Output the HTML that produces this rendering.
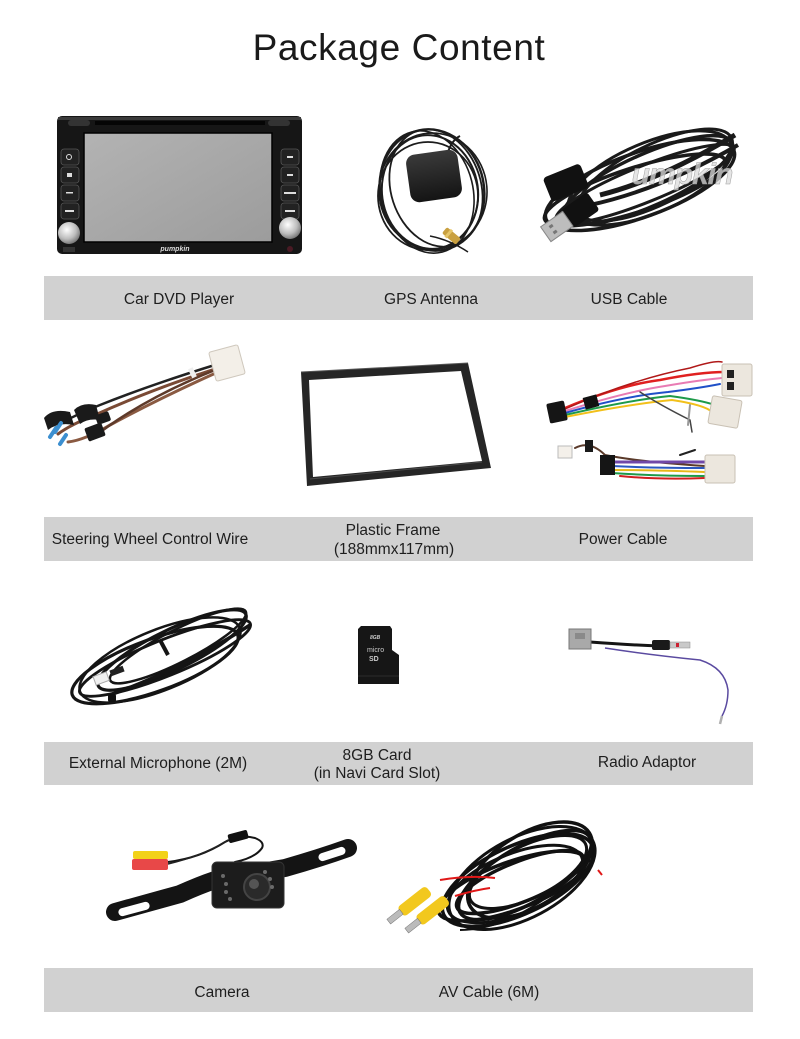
<!DOCTYPE html>
<html>
<head>
<meta charset="utf-8">
<style>
html,body{margin:0;padding:0;background:#fff;}
body{width:800px;height:1039px;overflow:hidden;}
svg{display:block;}
text{font-family:"Liberation Sans",Arial,sans-serif;}
</style>
</head>
<body>
<svg width="800" height="1039" viewBox="0 0 800 1039" xmlns="http://www.w3.org/2000/svg">
<defs>
  <linearGradient id="scr" x1="0" y1="0" x2="1" y2="1">
    <stop offset="0" stop-color="#b3b3b3"/>
    <stop offset="1" stop-color="#9c9c9c"/>
  </linearGradient>
  <radialGradient id="knob" cx="0.4" cy="0.35" r="0.7">
    <stop offset="0" stop-color="#ffffff"/>
    <stop offset="0.6" stop-color="#bdbdbd"/>
    <stop offset="1" stop-color="#6e6e6e"/>
  </radialGradient>
  <linearGradient id="puck" x1="0" y1="0" x2="0" y2="1">
    <stop offset="0" stop-color="#3a3a3a"/>
    <stop offset="1" stop-color="#141414"/>
  </linearGradient>
</defs>

<rect width="800" height="1039" fill="#fff"/>

<!-- Title -->
<text x="399" y="60" font-size="37" text-anchor="middle" fill="#1a1a1a" letter-spacing="0.6">Package Content</text>

<!-- ===== Row 1 images ===== -->
<!-- Car DVD player -->
<g>
  <rect x="57" y="116" width="245" height="138" rx="5" fill="#161616"/>
  <rect x="58" y="117" width="243" height="3" fill="#3a3a3a"/>
  <rect x="95" y="121" width="170" height="4" fill="#050505"/>
  <rect x="68" y="120" width="22" height="6" rx="3" fill="#333"/>
  <rect x="268" y="120" width="22" height="6" rx="3" fill="#333"/>
  <rect x="84" y="133" width="188" height="109" fill="url(#scr)"/>
  <rect x="84" y="133" width="188" height="109" fill="none" stroke="#000" stroke-width="1.5"/>
  <g fill="#222" stroke="#555" stroke-width="0.8">
    <rect x="61" y="149" width="18" height="16" rx="3"/>
    <rect x="61" y="167" width="18" height="16" rx="3"/>
    <rect x="61" y="185" width="18" height="16" rx="3"/>
    <rect x="61" y="203" width="18" height="16" rx="3"/>
    <rect x="281" y="149" width="18" height="16" rx="3"/>
    <rect x="281" y="167" width="18" height="16" rx="3"/>
    <rect x="281" y="185" width="18" height="16" rx="3"/>
    <rect x="281" y="203" width="18" height="16" rx="3"/>
  </g>
  <g fill="#ddd">
    <circle cx="69" cy="157" r="2.5" fill="none" stroke="#ddd" stroke-width="1"/>
    <rect x="67" y="173" width="5" height="4"/>
    <rect x="66" y="192" width="7" height="1.5"/>
    <rect x="65" y="210" width="9" height="2"/>
    <rect x="287" y="156" width="6" height="2"/>
    <rect x="287" y="174" width="6" height="2"/>
    <rect x="284" y="192" width="12" height="2"/>
    <rect x="285" y="210" width="10" height="2"/>
  </g>
  <circle cx="69" cy="233" r="11" fill="url(#knob)"/>
  <circle cx="290" cy="228" r="11" fill="url(#knob)"/>
  <rect x="63" y="247" width="12" height="5" fill="#333"/>
  <circle cx="290" cy="249" r="3" fill="#4a1a24"/>
  <text x="175" y="251" font-size="7" font-style="italic" font-weight="bold" fill="#ddd" text-anchor="middle">pumpkin</text>
</g>

<!-- GPS antenna -->
<g fill="none" stroke="#1c1c1c">
  <ellipse cx="432" cy="190" rx="52" ry="61" stroke-width="2.4" transform="rotate(-12 432 190)"/>
  <ellipse cx="430" cy="192" rx="48" ry="57" stroke-width="2" transform="rotate(-8 430 192)"/>
  <ellipse cx="436" cy="188" rx="45" ry="60" stroke-width="1.8" transform="rotate(-18 436 188)"/>
  <ellipse cx="428" cy="196" rx="50" ry="54" stroke-width="1.8"/>
  <ellipse cx="433" cy="191" rx="54" ry="58" stroke-width="1.6" transform="rotate(-5 433 191)"/>
  <ellipse cx="427" cy="192" rx="46" ry="62" stroke-width="1.6" transform="rotate(-14 427 192)"/>
  <path d="M448 152 Q452 140 460 136" stroke-width="2"/>
  <path d="M430 236 Q450 240 468 252" stroke-width="1.5"/>
</g>
<g transform="rotate(-8 434 176)">
  <rect x="408" y="152" width="52" height="48" rx="9" fill="url(#puck)"/>
</g>
<g transform="rotate(40 450 236)">
  <rect x="442" y="231" width="18" height="8" rx="2" fill="#c9a040"/>
  <rect x="446" y="230" width="3" height="10" fill="#e6c66a"/>
</g>

<!-- USB cable -->
<g fill="none" stroke="#1a1a1a" stroke-width="3.5">
  <ellipse cx="640" cy="185" rx="100" ry="32" transform="rotate(-20 640 185)"/>
  <ellipse cx="648" cy="180" rx="92" ry="26" transform="rotate(-24 648 180)"/>
  <ellipse cx="635" cy="190" rx="95" ry="22" transform="rotate(-18 635 190)"/>
  <ellipse cx="655" cy="175" rx="85" ry="30" transform="rotate(-26 655 175)" stroke-width="3"/>
  <ellipse cx="645" cy="184" rx="96" ry="18" transform="rotate(-22 645 184)" stroke-width="3"/>
  <ellipse cx="650" cy="178" rx="88" ry="35" transform="rotate(-23 650 178)" stroke-width="3"/>
  <path d="M600 195 Q660 180 735 135" stroke-width="5"/>
  <path d="M590 205 Q660 190 738 145" stroke-width="4"/>
</g>
<g transform="rotate(-22 565 183)">
  <rect x="546" y="170" width="40" height="26" rx="4" fill="#111"/>
</g>
<g transform="rotate(-35 575 215)">
  <rect x="566" y="203" width="32" height="22" rx="3" fill="#111"/>
  <rect x="540" y="205" width="27" height="18" fill="#bdbdbd" stroke="#888" stroke-width="1"/>
  <rect x="547" y="209" width="4" height="3" fill="#777"/>
  <rect x="547" y="216" width="4" height="3" fill="#777"/>
</g>
<text x="682" y="184" font-size="30" font-style="italic" font-weight="bold" text-anchor="middle" fill="#dcdcdc" fill-opacity="0.75" stroke="#a0a0a0" stroke-width="0.5" letter-spacing="-1">umpkin</text>

<!-- Row 1 bar -->
<rect x="44" y="276" width="709" height="44" fill="#d1d1d1"/>
<g font-size="15.5" fill="#1e1e1e" text-anchor="middle">
  <text x="179" y="304">Car DVD Player</text>
  <text x="431" y="304">GPS Antenna</text>
  <text x="629" y="304">USB Cable</text>
</g>

<!-- ===== Row 2 images ===== -->
<!-- Steering wheel control wire -->
<g>
  <g fill="none" stroke-linecap="round">
    <path d="M218 368 Q150 390 95 415 Q70 425 58 434" stroke="#7a4a35" stroke-width="3"/>
    <path d="M218 364 Q150 385 100 405 Q75 415 58 425" stroke="#222" stroke-width="2.5"/>
    <path d="M218 372 Q160 398 110 425 Q85 440 68 442" stroke="#8a5a42" stroke-width="3"/>
    <path d="M215 370 Q140 400 90 440" stroke="#5e3a2a" stroke-width="2.5"/>
  </g>
  <rect x="190" y="368" width="5" height="10" fill="#eee" transform="rotate(-25 192 373)"/>
  <rect x="212" y="348" width="30" height="30" rx="2" fill="#f3efe8" stroke="#cfc8bd" stroke-width="1" transform="rotate(-15 227 363)"/>
  <g fill="#1a1a1a">
    <path d="M44 418 Q52 408 70 412 L74 425 Q58 422 48 430 Z"/>
    <path d="M74 410 Q82 402 96 405 L100 420 Q88 418 80 424 Z"/>
    <rect x="86" y="425" width="18" height="14" rx="2" transform="rotate(-20 95 432)"/>
    <rect x="96" y="413" width="14" height="10" rx="2" transform="rotate(-20 103 418)"/>
  </g>
  <g fill="none" stroke="#3c8fd0" stroke-width="4" stroke-linecap="round">
    <path d="M50 437 L56 428"/>
    <path d="M55 432 L61 423"/>
    <path d="M60 444 L66 435"/>
  </g>
</g>

<!-- Plastic frame -->
<path fill-rule="evenodd" fill="#262626"
  d="M301 372 L468 363 L491 468 L307 486 Z M309 380 L461 371 L482 461 L313 477 Z"/>
<path d="M301 372 L468 363" stroke="#555" stroke-width="1" fill="none"/>
<path d="M310 479 L482 462" stroke="#4a4a4a" stroke-width="1" fill="none"/>

<!-- Power cable -->
<g fill="none" stroke-linecap="round">
  <path d="M565 408 Q620 385 660 380 Q700 372 725 372" stroke="#e02020" stroke-width="2.5"/>
  <path d="M565 411 Q625 392 665 386 Q700 380 722 378" stroke="#e87cb4" stroke-width="2"/>
  <path d="M565 413 Q625 396 668 392 Q700 388 720 384" stroke="#2050c8" stroke-width="2"/>
  <path d="M565 415 Q630 400 670 396 Q700 400 715 405" stroke="#1e9a4a" stroke-width="2"/>
  <path d="M565 417 Q630 404 672 400 Q705 405 712 412" stroke="#f2c01a" stroke-width="2"/>
  <path d="M565 409 Q630 380 690 368 Q715 360 722 362" stroke="#b01818" stroke-width="1.5"/>
  <path d="M640 392 Q660 405 690 420 L692 432" stroke="#444" stroke-width="1.5"/>
  <path d="M690 405 L688 425" stroke="#999" stroke-width="2"/>
</g>
<rect x="548" y="402" width="18" height="20" rx="2" fill="#151515" transform="rotate(-12 557 412)"/>
<rect x="584" y="396" width="14" height="12" fill="#111" transform="rotate(-15 591 402)"/>
<rect x="722" y="364" width="30" height="32" rx="2" fill="#ece7de" stroke="#c9c1b4" stroke-width="1"/>
<rect x="727" y="370" width="7" height="8" fill="#222"/>
<rect x="727" y="382" width="7" height="8" fill="#222"/>
<rect x="710" y="398" width="30" height="28" rx="2" fill="#ece7de" stroke="#c9c1b4" stroke-width="1" transform="rotate(10 725 412)"/>
<g fill="none" stroke-linecap="round">
  <path d="M575 448 Q590 440 605 455 Q640 462 705 466" stroke="#5a3a2a" stroke-width="2"/>
  <path d="M612 462 Q650 462 705 462" stroke="#7048a8" stroke-width="3"/>
  <path d="M612 466 Q650 468 705 468" stroke="#2a58c0" stroke-width="2"/>
  <path d="M612 470 Q650 470 705 472" stroke="#e8b818" stroke-width="2"/>
  <path d="M612 473 Q655 476 705 476" stroke="#1e9a4a" stroke-width="2"/>
  <path d="M620 476 Q660 480 705 478" stroke="#d02020" stroke-width="2"/>
  <path d="M680 455 L695 450" stroke="#222" stroke-width="2"/>
</g>
<rect x="558" y="446" width="14" height="12" fill="#f4f0ea" stroke="#bbb" stroke-width="1"/>
<rect x="585" y="440" width="8" height="12" fill="#1a1a1a"/>
<rect x="600" y="455" width="15" height="20" fill="#151515"/>
<rect x="705" y="455" width="30" height="28" rx="2" fill="#ece7de" stroke="#c9c1b4" stroke-width="1"/>

<!-- Row 2 bar -->
<rect x="44" y="517" width="709" height="44" fill="#d1d1d1"/>
<g font-size="15.5" fill="#1e1e1e" text-anchor="middle">
  <text x="150" y="544">Steering Wheel Control Wire</text>
  <text x="393" y="535">Plastic Frame</text>
  <text x="394" y="554">(188mmx117mm)</text>
  <text x="623" y="544">Power Cable</text>
</g>

<!-- ===== Row 3 images ===== -->
<!-- External microphone -->
<g fill="none" stroke="#151515" stroke-width="3.2">
  <ellipse cx="155" cy="665" rx="88" ry="26" transform="rotate(-20 155 665)"/>
  <ellipse cx="172" cy="650" rx="82" ry="20" transform="rotate(-26 172 650)"/>
  <ellipse cx="165" cy="658" rx="92" ry="18" transform="rotate(-22 165 658)" stroke-width="2.8"/>
  <ellipse cx="160" cy="660" rx="86" ry="30" transform="rotate(-22 160 660)" stroke-width="2.5"/>
  <ellipse cx="178" cy="646" rx="76" ry="16" transform="rotate(-27 178 646)" stroke-width="2.5"/>
  <path d="M110 695 Q180 670 250 625" stroke-width="3.5"/>
  <path d="M160 640 L168 655" stroke-width="4"/>
</g>
<rect x="94" y="674" width="14" height="9" fill="#f0f0f0" stroke="#aaa" stroke-width="1" transform="rotate(-20 101 678)"/>
<rect x="110" y="668" width="14" height="6" fill="#222" transform="rotate(-20 117 671)"/>
<rect x="108" y="694" width="8" height="8" rx="2" fill="#111"/>

<!-- SD card -->
<path d="M361 626 L390 626 L392 629 L392 650 L399 655 L399 684 L358 684 L358 629 Z" fill="#161616"/>
<path d="M358 676 L399 676" stroke="#2c2c2c" stroke-width="1"/>
<text x="370" y="639" font-size="5" font-weight="bold" font-style="italic" fill="#ccc">8GB</text>
<text x="367" y="652" font-size="7" fill="#ccc">micro</text>
<text x="369" y="661" font-size="7" font-weight="bold" fill="#ccc">SD</text>

<!-- Radio adaptor -->
<g>
  <path d="M590 642 Q630 645 660 646" stroke="#151515" stroke-width="3" fill="none"/>
  <path d="M605 648 Q650 655 700 660 Q725 668 728 690 Q728 705 722 716" stroke="#5a4aa0" stroke-width="1.5" fill="none"/>
  <rect x="569" y="629" width="22" height="20" fill="#a9a9a9" stroke="#777" stroke-width="1"/>
  <rect x="575" y="633" width="10" height="6" fill="#8a8a8a"/>
  <rect x="652" y="640" width="18" height="10" rx="2" fill="#1a1a1a"/>
  <rect x="670" y="642" width="20" height="6" fill="#c9c9c9" stroke="#8a8a8a" stroke-width="0.5"/>
  <rect x="676" y="643" width="3" height="4" fill="#c23"/>
  <path d="M722 716 L720 724" stroke="#b0b0b0" stroke-width="2.5"/>
</g>

<!-- Row 3 bar -->
<rect x="44" y="742" width="709" height="43" fill="#d1d1d1"/>
<g font-size="15.5" fill="#1e1e1e" text-anchor="middle">
  <text x="158" y="768">External Microphone (2M)</text>
  <text x="377" y="760">8GB Card</text>
  <text x="377" y="778">(in Navi Card Slot)</text>
  <text x="647" y="767">Radio Adaptor</text>
</g>

<!-- ===== Row 4 images ===== -->
<!-- Camera -->
<g>
  <path d="M168 862 Q200 858 225 842 Q240 834 255 838 Q265 842 262 848 Q255 858 235 862 L232 870" stroke="#151515" stroke-width="2" fill="none"/>
  <path d="M168 864 Q205 855 228 840" stroke="#222" stroke-width="1.5" fill="none"/>
  <rect x="228" y="832" width="20" height="9" rx="2" fill="#111" transform="rotate(-15 238 836)"/>
  <rect x="133" y="851" width="35" height="8" rx="2" fill="#f2d21a"/>
  <rect x="132" y="859" width="36" height="11" rx="2" fill="#e84848"/>
  <path d="M115 912 L180 894 Q200 885 215 880 L285 868 Q320 858 348 848" stroke="#141414" stroke-width="18" stroke-linecap="round" fill="none"/>
  <rect x="118" y="905" width="32" height="8" rx="4" fill="#fff" transform="rotate(-15 134 909)"/>
  <rect x="318" y="850" width="28" height="8" rx="4" fill="#fff" transform="rotate(-18 332 854)"/>
  <rect x="212" y="862" width="72" height="46" rx="5" fill="#1c1c1c" stroke="#333" stroke-width="1"/>
  <circle cx="257" cy="887" r="13" fill="#2a2a2a" stroke="#444" stroke-width="2"/>
  <circle cx="254" cy="884" r="5" fill="#555"/>
  <g fill="#6a6a6a">
    <circle cx="223" cy="876" r="2"/><circle cx="226" cy="884" r="2"/><circle cx="226" cy="892" r="2"/><circle cx="230" cy="899" r="2"/>
    <circle cx="265" cy="872" r="2"/><circle cx="270" cy="879" r="2"/><circle cx="272" cy="887" r="2"/>
  </g>
</g>

<!-- AV cable -->
<g fill="none" stroke="#111" stroke-width="3.5">
  <ellipse cx="518" cy="880" rx="82" ry="34" transform="rotate(-25 518 880)"/>
  <ellipse cx="525" cy="875" rx="75" ry="28" transform="rotate(-30 525 875)"/>
  <ellipse cx="512" cy="886" rx="78" ry="24" transform="rotate(-20 512 886)"/>
  <ellipse cx="530" cy="870" rx="70" ry="36" transform="rotate(-32 530 870)"/>
  <ellipse cx="520" cy="882" rx="68" ry="20" transform="rotate(-22 520 882)"/>
  <ellipse cx="522" cy="878" rx="80" ry="40" transform="rotate(-28 522 878)" stroke-width="3"/>
  <ellipse cx="528" cy="872" rx="64" ry="26" transform="rotate(-26 528 872)" stroke-width="3"/>
  <ellipse cx="515" cy="884" rx="72" ry="30" transform="rotate(-22 515 884)" stroke-width="3"/>
  <path d="M460 930 Q520 930 590 860" stroke-width="2"/>
</g>
<path d="M440 880 Q470 875 495 878" stroke="#e01818" stroke-width="2" fill="none"/>
<path d="M455 896 Q475 890 490 888" stroke="#e01818" stroke-width="2" fill="none"/>
<path d="M598 870 L602 875" stroke="#e01818" stroke-width="2"/>
<g transform="rotate(-38 410 905)">
  <rect x="398" y="899" width="36" height="12" rx="4" fill="#f2c81e"/>
  <rect x="383" y="902" width="16" height="6" fill="#bbb" stroke="#777" stroke-width="0.5"/>
</g>
<g transform="rotate(-38 428 914)">
  <rect x="416" y="908" width="36" height="12" rx="4" fill="#f2c81e"/>
  <rect x="401" y="911" width="16" height="6" fill="#bbb" stroke="#777" stroke-width="0.5"/>
</g>

<!-- Row 4 bar -->
<rect x="44" y="968" width="709" height="44" fill="#d1d1d1"/>
<g font-size="15.5" fill="#1e1e1e" text-anchor="middle">
  <text x="222" y="997">Camera</text>
  <text x="489" y="997">AV Cable (6M)</text>
</g>
</svg>
</body>
</html>
